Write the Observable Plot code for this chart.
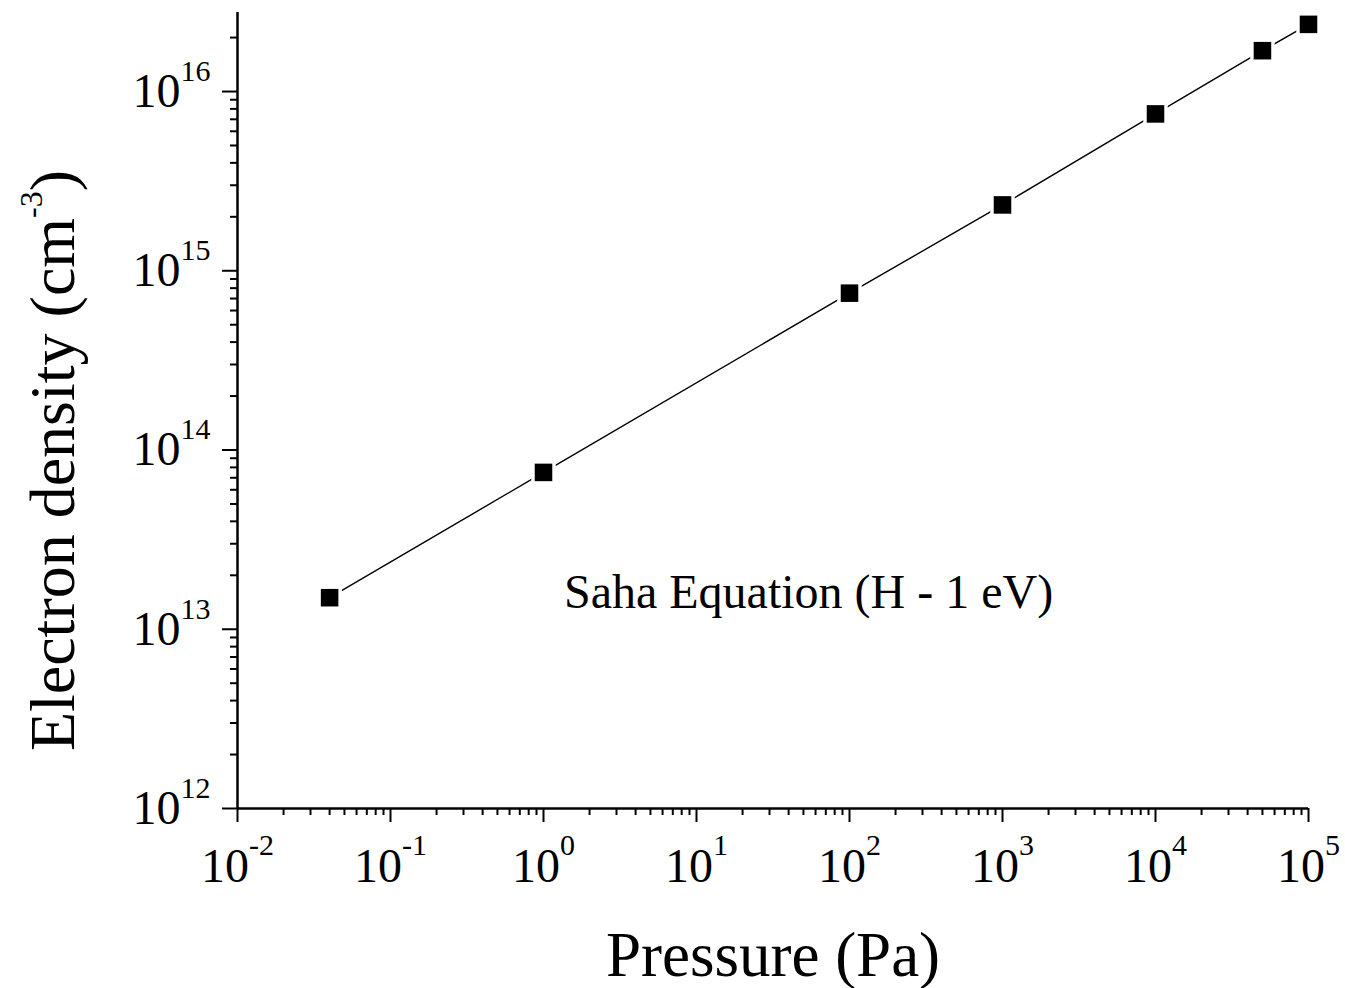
<!DOCTYPE html>
<html><head><meta charset="utf-8">
<script src="https://cdn.jsdelivr.net/npm/d3@7"></script>
<script src="https://cdn.jsdelivr.net/npm/@observablehq/plot@0.6"></script>
<style>html,body{margin:0;padding:0;background:#fff;} svg{display:block}</style>
</head><body><div id="chart"></div>
<script>
// ---- data ----
const pressure = [0.04, 1, 100, 1000, 10000, 50000, 100000];
const density = [1.5e13, 7.5e13, 7.5e14, 2.33e15, 7.5e15, 1.69e16, 2.37e16];
const xTicks = [1e-2, 1e-1, 1, 10, 100, 1e3, 1e4, 1e5];
const xTickExponents = ["-2", "-1", "0", "1", "2", "3", "4", "5"];
const yTicks = [1e12, 1e13, 1e14, 1e15, 1e16];
const yTickExponents = ["12", "13", "14", "15", "16"];
const xTitle = ["Pressure (Pa)"];
const yTitle = ["Electron density (cm", "-3", ")"];
const noteText = ["Saha Equation (H - 1 eV)"];
const notePressure = [54];
const noteDensity = [1.6e13];

const xDomain = [1e-2, 1e5];
const yDomain = [1e12, 2.76e16];

const minorOf = (majors, lo, hi) => majors.flatMap(m => [2,3,4,5,6,7,8,9].map(k => k * m)).filter(v => v > lo && v < hi);
const xMinor = minorOf(xTicks, xDomain[0], xDomain[1]);
const yMinor = minorOf(yTicks, yDomain[0], yDomain[1]);

const data = pressure.map((p, i) => ({p, n: density[i]}));
const notes = noteText.map((t, i) => ({t, p: notePressure[i], n: noteDensity[i]}));
const font = "'Liberation Serif', 'Times New Roman', Times, serif";
const yTitleFull = yTitle.join("");

const chart = Plot.plot({
  width: 1345,
  height: 988,
  marginLeft: 237,
  marginRight: 37,
  marginTop: 12,
  marginBottom: 180,
  style: {fontFamily: font, background: "white", color: "black", overflow: "visible"},
  x: {type: "log", domain: xDomain},
  y: {type: "log", domain: yDomain},
  marks: [
    Plot.axisX(xMinor, {tickSize: 7, strokeWidth: 2, tickFormat: () => "", label: null}),
    Plot.axisX(xTicks, {tickSize: 14, strokeWidth: 2, tickPadding: 25, fontSize: 48,
      tickFormat: d => xTickExponents[xTicks.indexOf(d)], label: null}),
    Plot.axisY(yMinor, {tickSize: 7, strokeWidth: 2, tickFormat: () => "", label: null}),
    Plot.axisY(yTicks, {tickSize: 15, strokeWidth: 2, tickPadding: 12, fontSize: 48,
      tickFormat: d => yTickExponents[yTicks.indexOf(d)], label: null}),
    Plot.ruleX([xDomain[0]], {stroke: "black", strokeWidth: 2.5}),
    Plot.ruleY([yDomain[0]], {stroke: "black", strokeWidth: 2.5}),
    Plot.line(data, {x: "p", y: "n", stroke: "black", strokeWidth: 1.4}),
    Plot.dot(data, {x: "p", y: "n", symbol: "square", r: 13.8, fill: "white"}),
    Plot.dot(data, {x: "p", y: "n", symbol: "square", r: 9.9, fill: "black"}),
    Plot.text(notes, {x: "p", y: "n", text: "t", fontSize: 48, textAnchor: "middle", lineAnchor: "middle", fill: "black"}),
    Plot.text(xTitle, {frameAnchor: "bottom", textAnchor: "middle", lineAnchor: "middle", dy: 147, fontSize: 63, fill: "black"}),
    Plot.text([yTitleFull], {frameAnchor: "left", textAnchor: "middle", lineAnchor: "middle", rotate: -90, dx: -184, dy: 50, fontSize: 64, fill: "black"})
  ]
});

// superscript tick labels: 10^n
function supLabels(axis, shift) {
  d3.select(chart).selectAll(`g[aria-label="${axis}-axis tick label"] text`).each(function () {
    const t = d3.select(this);
    const e = t.text();
    if (!e) { t.remove(); return; }
    t.text(null);
    t.append("tspan").text("10");
    t.append("tspan").attr("dy", shift).attr("font-size", 30).text(e);
  });
}
supLabels("x", -27);
supLabels("y", -26);

// y title with superscript
d3.select(chart).selectAll("text").filter(function () { return this.textContent === yTitleFull; }).each(function () {
  const t = d3.select(this);
  t.text(null);
  t.append("tspan").text(yTitle[0]);
  t.append("tspan").attr("dy", -32).attr("font-size", 32).text(yTitle[1]);
  t.append("tspan").attr("dy", 32).attr("font-size", 64).text(yTitle[2]);
});

document.getElementById("chart").appendChild(chart);
</script>
</body></html>
